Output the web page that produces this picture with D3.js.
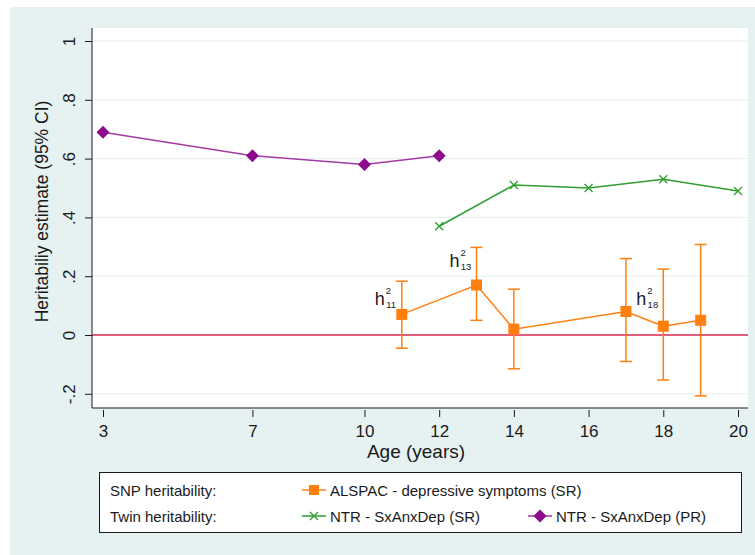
<!DOCTYPE html>
<html><head><meta charset="utf-8">
<script src="https://cdn.jsdelivr.net/npm/d3@7"></script>
<style>
html,body{margin:0;padding:0;background:#fff;}
svg{display:block;font-family:"Liberation Sans",Arial,sans-serif;}
</style></head>
<body><svg id="c" width="755" height="555"></svg>
<script>
// ---- data ----
const prAges = [3, 7, 10, 12];
const prValues = [0.69, 0.61, 0.58, 0.61];

const srAges = [12, 14, 16, 18, 20];
const srValues = [0.37, 0.51, 0.50, 0.53, 0.49];

const alspacAges = [11, 13, 14, 17, 18, 19];
const alspacValues = [0.07, 0.17, 0.02, 0.08, 0.03, 0.05];
const alspacLower = [-0.045, 0.05, -0.115, -0.09, -0.153, -0.207];
const alspacUpper = [0.183, 0.298, 0.156, 0.26, 0.224, 0.308];

const xTicks = [3, 7, 10, 12, 14, 16, 18, 20];
const yTicks = [-0.2, 0, 0.2, 0.4, 0.6, 0.8, 1];
const yTickLabels = ["-.2", "0", ".2", ".4", ".6", ".8", "1"];

const annAges = [11, 13, 18];
const annValues = [0.102, 0.231, 0.102];
const annSubs = ["11", "13", "18"];

// ---- chart ----
const svg = d3.select("#c");
const C = {orange:"#ff7f0e", green:"#2e9e2e", purple:"#8c0a8c", purpleLine:"#a43aa4", red:"#d9264f", bg:"#e6f1f1", grid:"#e6eef3", ink:"#1a1a1a"};

svg.append("rect").attr("x",10).attr("y",7).attr("width",745).attr("height",548).attr("fill",C.bg);

const P = {l:92, r:748, t:28, b:408};
svg.append("rect").attr("x",P.l).attr("y",P.t).attr("width",P.r-P.l).attr("height",P.b-P.t).attr("fill","#fff");

const x = d3.scaleLinear().domain([3,20]).range([103,738]);
const y = d3.scaleLinear().domain([0,1]).range([335,41]);

// grid
svg.append("g").selectAll("line").data(yTicks.filter(v=>v!==0)).join("line")
  .attr("x1",P.l).attr("x2",P.r).attr("y1",d=>y(d)).attr("y2",d=>y(d))
  .attr("stroke",C.grid).attr("stroke-width",1);

// zero line
svg.append("line").attr("x1",P.l).attr("x2",P.r).attr("y1",y(0)).attr("y2",y(0))
  .attr("stroke",C.red).attr("stroke-width",1.5);

// y axis
const ya = svg.append("g").attr("transform",`translate(${P.l},0)`)
  .call(d3.axisLeft(y).tickValues(yTicks).tickSize(7).tickSizeOuter(0)
    .tickFormat((d,i)=>yTickLabels[i]));
ya.select(".domain").attr("d",`M0,${P.t}V${P.b}`).attr("stroke",C.ink);
ya.selectAll(".tick line").attr("stroke",C.ink);
ya.selectAll(".tick text").attr("font-size",17).attr("fill",C.ink)
  .attr("x",null).attr("dy",null).attr("text-anchor","middle")
  .attr("transform","translate(-23,0) rotate(-90)")
  .attr("dominant-baseline","central");

// x axis
const xa = svg.append("g").attr("transform",`translate(0,${P.b})`)
  .call(d3.axisBottom(x).tickValues(xTicks).tickSize(8).tickSizeOuter(0).tickPadding(9));
xa.select(".domain").attr("d",`M${P.l},0H${P.r}`).attr("stroke",C.ink);
xa.selectAll(".tick line").attr("stroke",C.ink).attr("y1",2).attr("y2",9);
xa.selectAll(".tick text").attr("font-size",17).attr("fill",C.ink);

svg.append("text").attr("x",(P.l+P.r)/2-4).attr("y",458).attr("text-anchor","middle")
  .attr("font-size",19).attr("fill",C.ink).text("Age (years)");
svg.append("text").attr("transform",`translate(48,${(41+394)/2-6}) rotate(-90)`)
  .attr("text-anchor","middle").attr("font-size",17.5).attr("fill",C.ink)
  .text("Heritabiliy estimate (95% CI)");

const line = d3.line().x(d=>x(d[0])).y(d=>y(d[1]));

// purple PR
const prData = prAges.map((a,i)=>[a,prValues[i]]);
svg.append("path").attr("d",line(prData)).attr("fill","none").attr("stroke",C.purpleLine).attr("stroke-width",1.5);
const diamond = s=>`M0,${-s}L${s},0L0,${s}L${-s},0Z`;
svg.append("g").selectAll("path").data(prData).join("path")
  .attr("transform",d=>`translate(${x(d[0])},${y(d[1])})`).attr("d",diamond(6.5)).attr("fill",C.purple);

// green SR
const srData = srAges.map((a,i)=>[a,srValues[i]]);
svg.append("path").attr("d",line(srData)).attr("fill","none").attr("stroke",C.green).attr("stroke-width",1.5);
const cross = s=>`M${-s},${-s}L${s},${s}M${-s},${s}L${s},${-s}`;
svg.append("g").selectAll("path").data(srData).join("path")
  .attr("transform",d=>`translate(${x(d[0])},${y(d[1])})`).attr("d",cross(4)).attr("stroke",C.green).attr("stroke-width",1.3).attr("fill","none");

// orange ALSPAC
const alData = alspacAges.map((a,i)=>({a, v:alspacValues[i], lo:alspacLower[i], hi:alspacUpper[i]}));
const eb = svg.append("g").attr("stroke",C.orange).attr("stroke-width",1.5);
alData.forEach(d=>{
  eb.append("line").attr("x1",x(d.a)).attr("x2",x(d.a)).attr("y1",y(d.lo)).attr("y2",y(d.hi));
  eb.append("line").attr("x1",x(d.a)-6).attr("x2",x(d.a)+6).attr("y1",y(d.lo)).attr("y2",y(d.lo));
  eb.append("line").attr("x1",x(d.a)-6).attr("x2",x(d.a)+6).attr("y1",y(d.hi)).attr("y2",y(d.hi));
});
svg.append("path").attr("d",line(alData.map(d=>[d.a,d.v]))).attr("fill","none").attr("stroke",C.orange).attr("stroke-width",1.5);
svg.append("g").selectAll("rect").data(alData).join("rect")
  .attr("x",d=>x(d.a)-5.5).attr("y",d=>y(d.v)-5.5).attr("width",11).attr("height",11).attr("fill",C.orange);

// annotations
annAges.forEach((a,i)=>{
  const t = svg.append("text").attr("x",x(a)-27).attr("y",y(annValues[i])).attr("fill",C.ink).attr("font-size",18);
  t.append("tspan").text("h");
  t.append("tspan").attr("font-size",9.5).attr("dx",1).attr("dy",-11).text("2");
  t.append("tspan").attr("font-size",9.5).attr("dx",-5).attr("dy",14).text(annSubs[i]);
});

// legend
const L = svg.append("g");
L.append("rect").attr("x",99.5).attr("y",472.5).attr("width",642).attr("height",60).attr("fill","#fff").attr("stroke",C.ink).attr("stroke-width",1);
L.append("text").attr("x",110).attr("y",495.5).attr("font-size",15).attr("fill",C.ink).text("SNP heritability:");
L.append("text").attr("x",110).attr("y",521.5).attr("font-size",15).attr("fill",C.ink).text("Twin heritability:");
const legItems = [
  {x:302, y:490, c:C.orange, m:"sq", t:"ALSPAC - depressive symptoms (SR)"},
  {x:302, y:516, c:C.green, m:"x", t:"NTR - SxAnxDep (SR)"},
  {x:528, y:516, c:C.purple, m:"d", t:"NTR - SxAnxDep (PR)"}
];
legItems.forEach(d=>{
  L.append("line").attr("x1",d.x).attr("x2",d.x+24).attr("y1",d.y).attr("y2",d.y).attr("stroke",d.m==="d"?C.purpleLine:d.c).attr("stroke-width",1.5);
  const cx = d.x+12;
  if(d.m==="sq") L.append("rect").attr("x",cx-5).attr("y",d.y-5).attr("width",10).attr("height",10).attr("fill",d.c);
  if(d.m==="x") L.append("path").attr("transform",`translate(${cx},${d.y})`).attr("d",cross(4)).attr("stroke",d.c).attr("stroke-width",1.3);
  if(d.m==="d") L.append("path").attr("transform",`translate(${cx},${d.y})`).attr("d",diamond(6.5)).attr("fill",d.c);
  L.append("text").attr("x",d.x+28).attr("y",d.y+5.5).attr("font-size",15).attr("fill",C.ink).text(d.t);
});
</script></body></html>
